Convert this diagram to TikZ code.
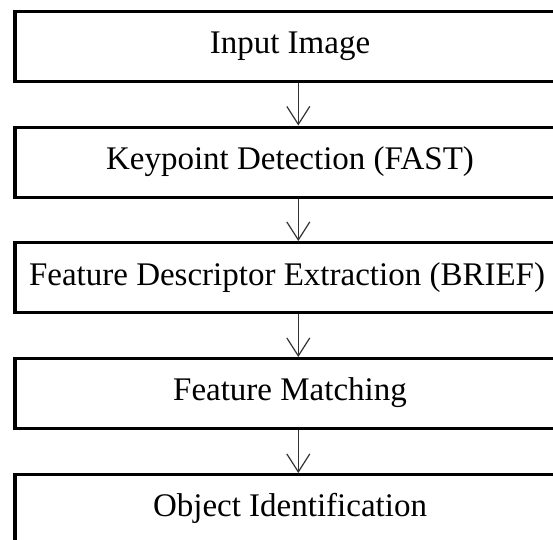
\documentclass[tikz,border=0pt]{standalone}
\usepackage{fontspec}
\setmainfont{Liberation Serif}
\usetikzlibrary{arrows.meta}
\begin{document}
\begin{tikzpicture}[x=1pt,y=-1pt,
  stagebox/.style={draw=black, line width=3.3pt, rectangle, inner sep=0pt,
    minimum width=566.7pt, minimum height=70pt, anchor=north west},
  stagetext/.style={anchor=base, inner sep=0pt, font=\fontsize{33}{40}\selectfont},
  flow/.style={draw=black!80, line width=1.2pt,
    -{Straight Barb[length=18pt,width=23pt]}}]
\useasboundingbox (0,0) rectangle (553,539);
\clip (0,0) rectangle (553,539);
\node[stagebox] (b1) at (13.3,10) {};
\node[stagebox] (b2) at (13.3,125.5) {};
\node[stagebox] (b3) at (13.3,241) {};
\node[stagebox] (b4) at (13.3,357) {};
\node[stagebox] (b5) at (13.3,473) {};
\node[stagetext] (t1) at (290,53) {Input Image};
\node[stagetext] (t2) at (290,169) {Keypoint Detection (FAST)};
\node[stagetext] (t3) at (287,285) {Feature Descriptor Extraction (BRIEF)};
\node[stagetext] (t4) at (290,400) {Feature Matching};
\node[stagetext] (t5) at (290,516) {Object Identification};
\draw[flow] (b1.south) -- (b2.north);
\draw[flow] (b2.south) -- (b3.north);
\draw[flow] (b3.south) -- (b4.north);
\draw[flow] (b4.south) -- (b5.north);
\end{tikzpicture}
\end{document}
